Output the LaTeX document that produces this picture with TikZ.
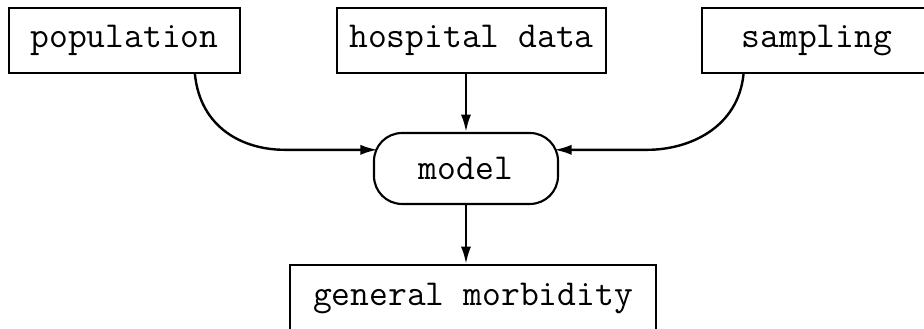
\documentclass[tikz,border=0pt]{standalone}
\usepackage{tikz}
\usetikzlibrary{arrows.meta}
\tikzset{box/.style={rectangle,draw=black,line width=0.8pt,font=\ttfamily\fontsize{13.7}{16}\selectfont,inner sep=2pt}}
\tikzset{rbox/.style={box,rounded corners=10.5pt}}
\tikzset{flow/.style={-{Latex[length=6.5pt,width=3.8pt]},line width=0.9pt}}

\begin{document}
\begin{tikzpicture}[x=0.375pt,y=-0.375pt]
\useasboundingbox (0,0) rectangle (924,329);

\node[box, minimum width=86.6pt, minimum height=24.4pt] (pop) at (124.5,40.5) {population};
\node[box, minimum width=100.9pt, minimum height=24.4pt] (hosp) at (471.5,40.5) {hospital data};
\node[box, minimum width=86.3pt, minimum height=24.4pt] (samp) at (817,40.5) {sampling};
\node[rbox, minimum width=69pt, minimum height=26.6pt] (model) at (466,168.5) {model};
\node[box, minimum width=137.3pt, minimum height=25.5pt] (morb) at (473,299) {general morbidity};

\begin{scope}[flow]
 \draw ([xshift=-17.3pt]pop.south east) .. controls +(2pt,-20pt) and +(-16pt,0pt) .. ([shift={(-33pt,7pt)}]model.west) -- ([shift={(1.8pt,7pt)}]model.west);
 \draw ([xshift=16pt]samp.south west) .. controls +(-2pt,-20pt) and +(16pt,0pt) .. ([shift={(33pt,7pt)}]model.east) -- ([shift={(-1.8pt,7pt)}]model.east);
 \draw (hosp.south -| model.north) -- (model.north);
 \draw (model.south) -- (morb.north -| model.south);
\end{scope}
\end{tikzpicture}
\end{document}
